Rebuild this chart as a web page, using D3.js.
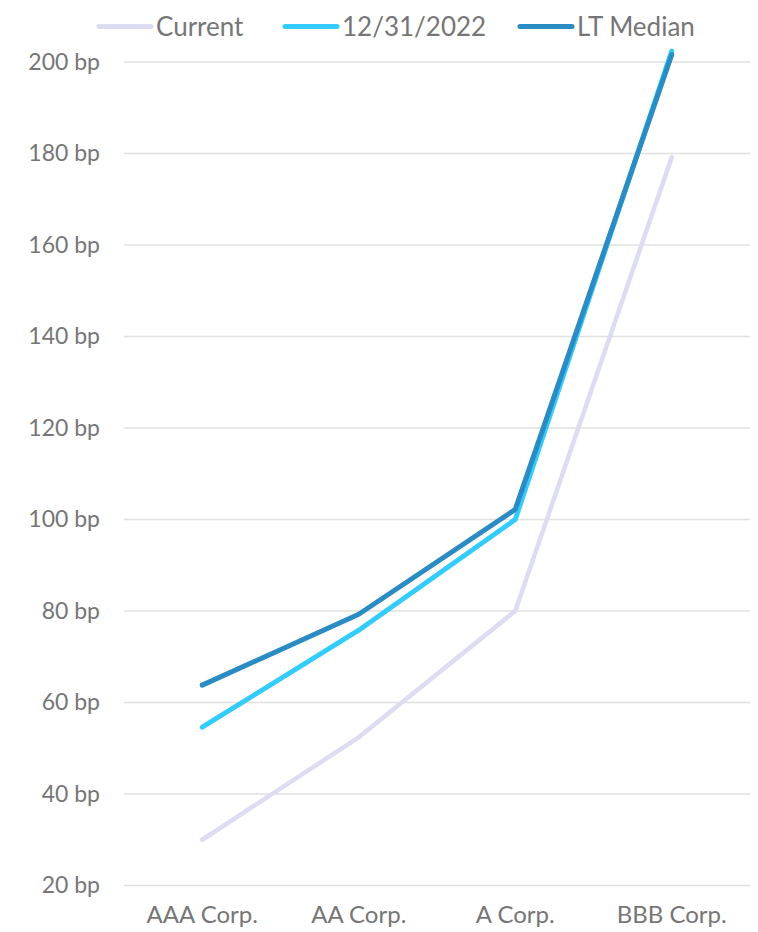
<!DOCTYPE html>
<html>
<head>
<meta charset="utf-8">
<script src="https://cdn.jsdelivr.net/npm/d3@7"></script>
<style>
  html, body { margin: 0; padding: 0; background: #ffffff; }
  svg { display: block; font-family: Lato, "Open Sans", sans-serif; }
</style>
</head>
<body>
<svg id="chart" width="758" height="932"></svg>
<script>
// Corporate spread by rating bucket, in basis points
const categories = ["AAA Corp.", "AA Corp.", "A Corp.", "BBB Corp."];
const seriesNames = ["Current", "12/31/2022", "LT Median"];
const currentValues = [30, 52.4, 80, 179.2];
const yearEndValues = [54.6, 75.8, 100, 202.4];
const medianValues = [63.8, 79.3, 102.2, 201.6];
const yTicks = [20, 40, 60, 80, 100, 120, 140, 160, 180, 200];

const series = [
  { name: seriesNames[0], values: currentValues, color: "#dcdcf2", width: 4.5 },
  { name: seriesNames[1], values: yearEndValues, color: "#33ccfd", width: 5 },
  { name: seriesNames[2], values: medianValues, color: "#2b8bc3", width: 5 }
];

const svg = d3.select("#chart");
const plotLeft = 124, plotRight = 750, plotTop = 62, plotBottom = 885.5;
const textColor = "#767676";

const x = d3.scaleBand().domain(categories).range([plotLeft, plotRight]);
const y = d3.scaleLinear().domain([20, 200]).range([plotBottom, plotTop]);

// horizontal gridlines
svg.append("g")
  .selectAll("line")
  .data(yTicks)
  .join("line")
  .attr("x1", plotLeft).attr("x2", plotRight)
  .attr("y1", d => y(d)).attr("y2", d => y(d))
  .attr("stroke", "#e0e0e0").attr("stroke-width", 1.3);

// y axis labels
const yAxis = d3.axisLeft(y).tickValues(yTicks).tickSize(0).tickPadding(24)
  .tickFormat(d => d + " bp");
svg.append("g")
  .attr("transform", `translate(${plotLeft},0)`)
  .call(yAxis)
  .call(g => g.select(".domain").remove())
  .call(g => g.selectAll("text")
    .attr("fill", textColor)
    .attr("font-size", 23)
    .attr("font-family", "Lato, sans-serif"));

// x axis labels
const xAxis = d3.axisBottom(x).tickSize(0).tickPadding(20);
svg.append("g")
  .attr("transform", `translate(0,${plotBottom})`)
  .call(xAxis)
  .call(g => g.select(".domain").remove())
  .call(g => g.selectAll("text")
    .attr("fill", textColor)
    .attr("font-size", 24)
    .attr("font-family", "Lato, sans-serif"));

// series lines
const line = d3.line()
  .x((d, i) => x(categories[i]) + x.bandwidth() / 2)
  .y(d => y(d));

svg.append("g")
  .selectAll("path")
  .data(series)
  .join("path")
  .attr("d", d => line(d.values))
  .attr("fill", "none")
  .attr("stroke", d => d.color)
  .attr("stroke-width", d => d.width)
  .attr("stroke-linecap", "round")
  .attr("stroke-linejoin", "round");

// legend
const legendOffsets = [99, 285, 520];
const items = svg.append("g")
  .selectAll("g")
  .data(series)
  .join("g")
  .attr("transform", (d, i) => `translate(${legendOffsets[i]},26.5)`);
items.append("line")
  .attr("x1", 0).attr("x2", 52)
  .attr("y1", 0).attr("y2", 0)
  .attr("stroke", d => d.color)
  .attr("stroke-width", 5)
  .attr("stroke-linecap", "round");
items.append("text")
  .attr("x", 57)
  .attr("y", 0)
  .attr("dy", "0.35em")
  .attr("fill", textColor)
  .attr("font-size", 26)
  .attr("font-family", "Lato, sans-serif")
  .text(d => d.name);
</script>
</body>
</html>
